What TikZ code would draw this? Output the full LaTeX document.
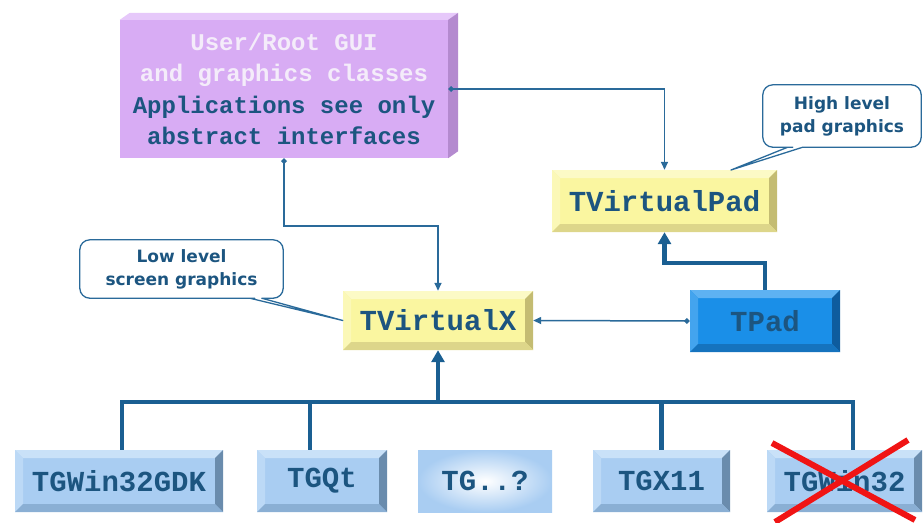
\documentclass[tikz,border=0pt]{standalone}
\usepackage{fontspec}
\setmonofont{Liberation Mono}
\newfontfamily\calfont{DejaVu Sans}
\usetikzlibrary{arrows.meta,calc}
\definecolor{txtblue}{HTML}{1C5580}
\definecolor{lnblue}{HTML}{2A6A9A}
\definecolor{thkblue}{HTML}{1A5F92}
\definecolor{purface}{HTML}{D8ACF4}
\definecolor{purtop}{HTML}{E6C8FA}
\definecolor{purside}{HTML}{B48ACF}
\definecolor{purwhite}{HTML}{F4ECFA}
\definecolor{yface}{HTML}{FAF6A0}
\definecolor{ylight}{HTML}{FCFAC6}
\definecolor{ydark}{HTML}{C4BC72}
\definecolor{ybot}{HTML}{DDD68A}
\definecolor{bface}{HTML}{1A8FE8}
\definecolor{blight}{HTML}{5EB2F2}
\definecolor{bdark}{HTML}{0E5C9E}
\definecolor{bbot}{HTML}{1573BE}
\definecolor{lface}{HTML}{A9CDF2}
\definecolor{llight}{HTML}{C9E1F8}
\definecolor{ldark}{HTML}{6A8CAD}
\definecolor{lbot}{HTML}{8AAFD4}
\definecolor{xred}{HTML}{F01414}
\newlength\bevw
\setlength\bevw{8pt}
\tikzset{
  bevel/.style n args={4}{rectangle, inner sep=0pt, fill=#1,
    text=txtblue, font=\ttfamily\bfseries\fontsize{29}{32}\selectfont,
    path picture={
      \path (path picture bounding box.north west) coordinate (bvA)
            (path picture bounding box.north east) coordinate (bvB)
            (path picture bounding box.south east) coordinate (bvC)
            (path picture bounding box.south west) coordinate (bvD);
      \path ([xshift=\bevw,yshift=-\bevw]bvA) coordinate (bva)
            ([xshift=-\bevw,yshift=-\bevw]bvB) coordinate (bvb)
            ([xshift=-\bevw,yshift=\bevw]bvC) coordinate (bvc)
            ([xshift=\bevw,yshift=\bevw]bvD) coordinate (bvd);
      \fill[#2] (bvA)--(bvB)--(bvb)--(bva)--cycle;
      \fill[#2!60!#1] (bvA)--(bva)--(bvd)--(bvD)--cycle;
      \fill[#3] (bvB)--(bvC)--(bvc)--(bvb)--cycle;
      \fill[#4] (bvD)--(bvd)--(bvc)--(bvC)--cycle;
    }},
  ybox/.style={bevel={yface}{ylight}{ydark}{ybot}},
  tpbox/.style={bevel={bface}{blight}{bdark}{bbot}},
  lbox/.style={bevel={lface}{llight}{ldark}{lbot}, minimum height=62pt},
  thinconn/.style={draw=lnblue, line width=1.5pt, {Diamond[length=6pt,width=6pt]}-{Triangle[length=8pt,width=7pt]}},
  thickconn/.style={draw=thkblue, line width=4.5pt, -{Triangle[length=12pt,width=13pt]}},
  busline/.style={draw=thkblue, line width=4.5pt},
  calltext/.style={align=center, text=txtblue, inner sep=0pt,
    font=\calfont\bfseries\fontsize{17}{23}\selectfont},
  callline/.style={draw=lnblue, line width=1.3pt, line join=round},
  redx/.style={draw=xred, line width=6pt}
}
\begin{document}
\begin{tikzpicture}[x=1pt,y=-1pt]
\useasboundingbox (0,0) rectangle (923,522);
% GUI box (extruded)
\node[rectangle, fill=purface, minimum width=328pt, minimum height=138pt, inner sep=0pt,
      align=center, font=\ttfamily\bfseries\fontsize{24}{31.5}\selectfont, text=txtblue]
  (gui) at (284,89) {{\color{purwhite}User/Root GUI}\\{\color{purwhite}and graphics classes}\\Applications see only\\abstract interfaces};
\fill[purtop] (gui.north west) -- ++(10,-7) -- ($(gui.north east)+(10,-7)$) -- (gui.north east) -- cycle;
\fill[purside] (gui.north east) -- ++(10,-7) -- ($(gui.south east)+(10,-7)$) -- (gui.south east) -- cycle;
% main boxes
\node[ybox, minimum width=225pt, minimum height=62pt] (vpad) at (664.5,201) {TVirtualPad};
\node[ybox, minimum width=190pt, minimum height=59pt] (vx) at (438,320.5) {TVirtualX};
\node[tpbox, minimum width=150pt, minimum height=62pt] (tpad) at (765,321) {TPad};
% bottom row
\node[lbox, minimum width=208pt] (gdk) at (119,481) {TGWin32GDK};
\node[lbox, minimum width=130pt] (qt) at (322,481) {TGQt};
\node[rectangle, inner sep=0pt, minimum width=134pt, minimum height=62pt,
      inner color=white, outer color=lface, text=txtblue,
      font=\ttfamily\bfseries\fontsize{29}{32}\selectfont] (tgq) at (485,481) {TG..?};
\node[lbox, minimum width=137pt] (x11) at (661.5,481) {TGX11};
\node[lbox, minimum width=155pt] (w32) at (844.5,481) {TGWin32};
% connectors
\draw[thinconn] (gui.east) -- (gui.east -| vpad.north) -- (vpad.north);
\draw[thinconn] (gui.south) -- ++(0,68) -| (vx.north);
\draw[thinconn] (tpad.west) -- (vx.east);
\draw[thickconn] (tpad.north) -- ++(0,-27) -| (vpad.south);
\coordinate (bus) at (438,402);
\draw[busline] ([xshift=3pt]gdk.north) |- (bus) -| ([xshift=8.5pt]w32.north);
\draw[busline] ([xshift=-12pt]qt.north) -- ([xshift=-12pt]qt.north |- bus);
\draw[busline] (x11.north) -- (x11.north |- bus);
\draw[thickconn] ([yshift=2.25pt]bus) -- (vx.south);
% callouts
\node[calltext, minimum width=158pt, minimum height=62pt] (hl) at (842,116) {High level\\pad graphics};
\coordinate (tipH) at (731,170);
\draw[callline] ([xshift=40pt]hl.south west) -- ++(5,0) [rounded corners=10pt]
  -- (hl.south east) -- (hl.north east) -- (hl.north west) -- (hl.south west)
  -- ([xshift=20pt]hl.south west) [sharp corners] -- ([xshift=25pt]hl.south west)
  -- (tipH) -- ([xshift=40pt]hl.south west) -- ++(5,0);
\node[calltext, minimum width=203pt, minimum height=58pt] (ll) at (181.5,269) {Low level\\screen graphics};
\draw[callline] ([xshift=182pt]ll.south west) -- ++(5,0) [rounded corners=10pt]
  -- (ll.south east) -- (ll.north east) -- (ll.north west) -- (ll.south west)
  -- ([xshift=165pt]ll.south west) [sharp corners] -- ([xshift=170pt]ll.south west)
  -- (vx.west) -- ([xshift=182pt]ll.south west) -- ++(5,0);
% red cross
\draw[redx] (772,443) -- (915,520);
\draw[redx] (908,440) -- (775,522);
\end{tikzpicture}
\end{document}
